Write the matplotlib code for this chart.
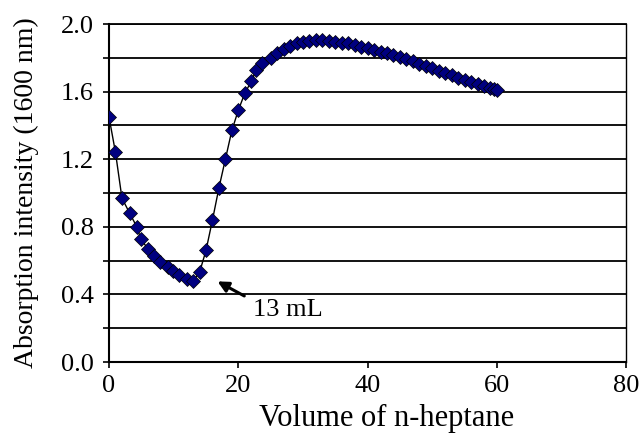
import matplotlib.pyplot as plt
from matplotlib.ticker import MultipleLocator, FuncFormatter

# volume of n-heptane added (mL) and absorption intensity at 1600 nm
volume = [0, 1, 2, 3.2, 4.3, 4.9, 6, 6.9, 7.9, 9.1, 9.9, 10.9, 12, 13, 14, 15, 16, 17,
          18, 19, 20, 21, 22, 22.8, 23.7, 25, 26, 27, 28, 29, 30, 31, 32, 33, 34,
          35, 36, 37, 38, 39, 40, 41, 42, 43, 44, 45, 46, 47, 48, 49, 50, 51, 52,
          53, 54, 55, 56, 57, 58, 59, 59.5, 60]
intensity = [1.45, 1.24, 0.97, 0.88, 0.80, 0.73, 0.67, 0.63, 0.59, 0.56, 0.54, 0.515,
             0.49, 0.48, 0.53, 0.66, 0.84, 1.03, 1.20, 1.37, 1.49, 1.59, 1.66, 1.73,
             1.77, 1.80, 1.83, 1.855, 1.87, 1.885, 1.895, 1.90, 1.905, 1.905, 1.90,
             1.895, 1.89, 1.885, 1.875, 1.865, 1.856, 1.847, 1.837, 1.827, 1.817,
             1.807, 1.793, 1.779, 1.765, 1.751, 1.737, 1.724, 1.71, 1.697, 1.683,
             1.669, 1.657, 1.645, 1.633, 1.62, 1.615, 1.61]

x_ticks = [0, 20, 40, 60, 80]
min_label = "13 mL"

plt.rcParams['font.family'] = ['Liberation Serif', 'DejaVu Serif']

fig = plt.figure(figsize=(6.39, 4.37), dpi=100)
ax = fig.add_axes([0.1706, 0.1716, 0.8094, 0.7734])

ax.plot(volume, intensity, color='black', linewidth=1.0, marker='D',
        markersize=7, markerfacecolor='#000080', markeredgecolor='black',
        markeredgewidth=0.5, zorder=3)

ax.set_xlim(0, 80)
ax.set_ylim(0, 2.0)
ax.set_xticks(x_ticks)
ax.yaxis.set_major_locator(MultipleLocator(0.2))
ax.yaxis.set_major_formatter(FuncFormatter(
    lambda v, p: f"{v:.1f}" if round(v / 0.2) % 2 == 0 else ""))
ax.grid(axis='y', color='black', linewidth=1.3)
ax.set_axisbelow(True)

for s in ['left', 'bottom']:
    ax.spines[s].set_linewidth(1.5)
ax.spines['right'].set_linewidth(1.0)
ax.spines['top'].set_linewidth(1.3)
ax.tick_params(direction='out', length=4, width=1.2, labelsize=19)
ax.tick_params(axis='y', pad=7)
ax.tick_params(axis='x', pad=5)

ax.set_xlabel('Volume of n-heptane', fontsize=22, va='center')
ax.xaxis.set_label_coords(0.536, -0.166)
ax.set_ylabel('Absorption intensity (1600 nm)', fontsize=20, va='center')
ax.yaxis.set_label_coords(-0.16, 0.5)

ax.annotate('', xy=(16.4, 0.485), xytext=(21.3, 0.383),
            arrowprops=dict(arrowstyle='-|>', color='black', lw=2.2,
                            mutation_scale=16))
ax.text(22.2, 0.31, min_label, fontsize=19, va='center', ha='left')

fig.savefig('out.png', dpi=100)
